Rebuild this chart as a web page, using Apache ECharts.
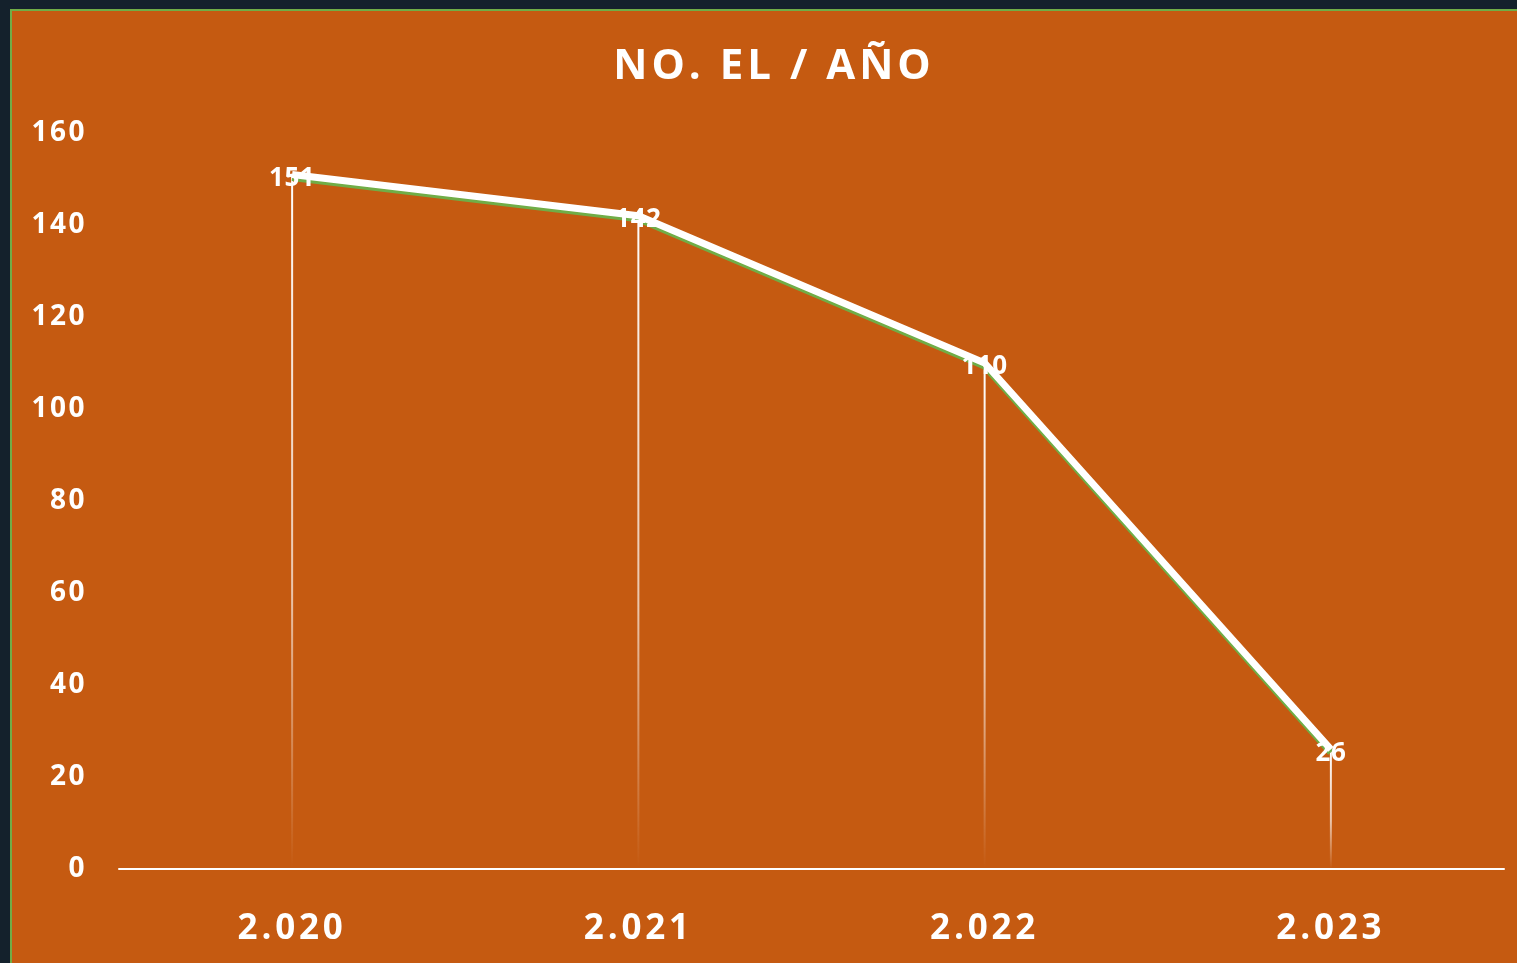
<!DOCTYPE html>
<html><head><meta charset="utf-8">
<script src="https://cdn.jsdelivr.net/npm/echarts@6/dist/echarts.min.js"></script>
<style>
html,body{margin:0;padding:0;width:1517px;height:963px;background:#14212c;overflow:hidden}
#panel{position:absolute;left:10px;top:9px;width:1507px;height:954px;background:#C55A11;border-left:2px solid #70AD47;border-top:2px solid #70AD47;box-sizing:border-box}
#chart{position:absolute;left:0;top:0;width:1517px;height:963px}
</style></head>
<body>
<div id="panel"></div>
<div id="chart"></div>
<script>
const categories = ['2.020', '2.021', '2.022', '2.023'];
const values = [151, 142, 110, 26];
const yTicks = { min: 0, max: 160, interval: 20 };
const title = 'NO. EL / AÑO';

// letter spacing per font size (canvas letterSpacing), so text is as wide as in the reference
const spacingBySize = {42: '4px', 35: '3.8px', 28: '2.5px', 26: '0.5px'};
(function () {
  const proto = CanvasRenderingContext2D.prototype;
  const desc = Object.getOwnPropertyDescriptor(proto, 'font');
  if (!desc || !('letterSpacing' in proto)) return;
  Object.defineProperty(proto, 'font', {
    configurable: true,
    get() { return desc.get.call(this); },
    set(v) {
      desc.set.call(this, v);
      const m = /(\d+(?:\.\d+)?)px/.exec(v);
      this.letterSpacing = (m && spacingBySize[m[1]]) || '0px';
    }
  });
})();

const chart = echarts.init(document.getElementById('chart'), null, {renderer: 'canvas'});
const font = 'Open Sans';
chart.setOption({
  backgroundColor: 'transparent',
  animation: false,
  title: {
    text: title, left: 769, top: 39, textAlign: 'center',
    textStyle: {color: '#fff', fontFamily: font, fontWeight: 'bold', fontSize: 42}
  },
  grid: {left: 119, right: 13, top: 133, bottom: 94},
  xAxis: {
    type: 'category', data: categories, boundaryGap: true,
    axisLine: {lineStyle: {color: '#fff', width: 2}},
    axisTick: {show: false},
    axisLabel: {color: '#fff', fontFamily: font, fontWeight: 'bold', fontSize: 35, margin: 41}
  },
  yAxis: {
    type: 'value', min: yTicks.min, max: yTicks.max, interval: yTicks.interval,
    axisLine: {show: false}, axisTick: {show: false}, splitLine: {show: false},
    axisLabel: {color: '#fff', fontFamily: font, fontWeight: 'bold', fontSize: 28, margin: 32,
      padding: [3, 0, 0, 0]}
  },
  series: [
    {
      type: 'bar', data: values, barWidth: 2, silent: true,
      itemStyle: {color: new echarts.graphic.LinearGradient(0, 0, 0, 1, [
        {offset: 0, color: 'rgba(255,255,255,1)'},
        {offset: 0.6, color: 'rgba(255,255,255,0.65)'},
        {offset: 1, color: 'rgba(255,255,255,0)'}
      ])}
    },
    {
      type: 'line', data: values, symbol: 'circle', symbolSize: 1, showSymbol: true, z: 5,
      itemStyle: {color: 'rgba(255,255,255,0)'},
      lineStyle: {color: '#fff', width: 7, shadowColor: '#70AD47', shadowOffsetY: 3, shadowBlur: 0},
      label: {show: true, position: 'inside', color: '#fff', fontFamily: font, fontWeight: 'bold', fontSize: 26, offset: [0, 4]}
    }
  ]
});
</script>
</body></html>
